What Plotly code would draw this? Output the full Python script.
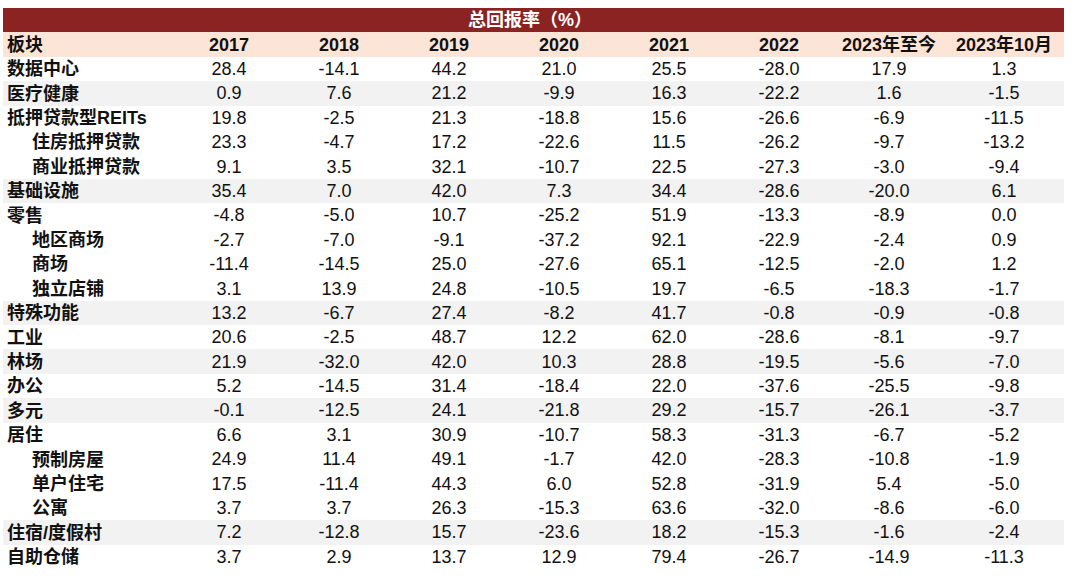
import plotly.graph_objects as go
import numpy as np

title = "总回报率（%）"
header_label = "板块"
years = ["2017", "2018", "2019", "2020", "2021", "2022", "2023年至今", "2023年10月"]
sectors = ["数据中心", "医疗健康", "抵押贷款型REITs", "住房抵押贷款", "商业抵押贷款", "基础设施",
           "零售", "地区商场", "商场", "独立店铺", "特殊功能", "工业", "林场", "办公", "多元",
           "居住", "预制房屋", "单户住宅", "公寓", "住宿/度假村", "自助仓储"]
sub_sectors = ["住房抵押贷款", "商业抵押贷款", "地区商场", "商场", "独立店铺", "预制房屋", "单户住宅", "公寓"]
shaded = ["医疗健康", "基础设施", "特殊功能", "林场", "多元", "住宿/度假村"]

v2017 = [28.4, 0.9, 19.8, 23.3, 9.1, 35.4, -4.8, -2.7, -11.4, 3.1, 13.2, 20.6, 21.9, 5.2, -0.1, 6.6, 24.9, 17.5, 3.7, 7.2, 3.7]
v2018 = [-14.1, 7.6, -2.5, -4.7, 3.5, 7.0, -5.0, -7.0, -14.5, 13.9, -6.7, -2.5, -32.0, -14.5, -12.5, 3.1, 11.4, -11.4, 3.7, -12.8, 2.9]
v2019 = [44.2, 21.2, 21.3, 17.2, 32.1, 42.0, 10.7, -9.1, 25.0, 24.8, 27.4, 48.7, 42.0, 31.4, 24.1, 30.9, 49.1, 44.3, 26.3, 15.7, 13.7]
v2020 = [21.0, -9.9, -18.8, -22.6, -10.7, 7.3, -25.2, -37.2, -27.6, -10.5, -8.2, 12.2, 10.3, -18.4, -21.8, -10.7, -1.7, 6.0, -15.3, -23.6, 12.9]
v2021 = [25.5, 16.3, 15.6, 11.5, 22.5, 34.4, 51.9, 92.1, 65.1, 19.7, 41.7, 62.0, 28.8, 22.0, 29.2, 58.3, 42.0, 52.8, 63.6, 18.2, 79.4]
v2022 = [-28.0, -22.2, -26.6, -26.2, -27.3, -28.6, -13.3, -22.9, -12.5, -6.5, -0.8, -28.6, -19.5, -37.6, -15.7, -31.3, -28.3, -31.9, -32.0, -15.3, -26.7]
v2023ytd = [17.9, 1.6, -6.9, -9.7, -3.0, -20.0, -8.9, -2.4, -2.0, -18.3, -0.9, -8.1, -5.6, -25.5, -26.1, -6.7, -10.8, 5.4, -8.6, -1.6, -14.9]
v2023oct = [1.3, -1.5, -11.5, -13.2, -9.4, 6.1, 0.0, 0.9, 1.2, -1.7, -0.8, -9.7, -7.0, -9.8, -3.7, -5.2, -1.9, -5.0, -6.0, -2.4, -11.3]

value_cols = [v2017, v2018, v2019, v2020, v2021, v2022, v2023ytd, v2023oct]

# ---- styling ----
W, H = 1080, 579
FONT = "Arial, 'Liberation Sans', 'Noto Sans CJK SC', sans-serif"
RED = "#8B2323"
PEACH = "#FCE4D6"
GREY = "#F2F2F2"
TXT = "#111111"
col_widths = [171, 110, 110, 110, 110, 110, 110, 110, 120]   # label column + 8 value columns
INDENT = "\u00a0" * 5

# rows (top to bottom): title bar, header row, data rows
TITLE_KEY = "__title__"
row_keys = [TITLE_KEY, header_label] + sectors
row_ticktext = [""] + ["<b>" + header_label + "</b>"] + [
    "<b>" + (INDENT + s if s in sub_sectors else s) + "</b>" for s in sectors]

# background class: 0 white, 1 grey, 2 peach, 3 red
z = [[3] * 9, [2] * 9] + [[1 if s in shaded else 0] * 9 for s in sectors]
text = [[""] * 9, [""] + ["<b>" + y + "</b>" for y in years]]
for i in range(len(sectors)):
    text.append([""] + [f"{col[i]:.1f}" for col in value_cols])

x_edges = list(np.concatenate([[0], np.cumsum(col_widths)]))

fig = go.Figure(go.Heatmap(
    z=z, x=x_edges, y=row_keys, text=text, texttemplate="%{text}",
    textfont=dict(family=FONT, size=18, color=TXT),
    zmin=0, zmax=3, showscale=False, hoverinfo="skip", xgap=0, ygap=0,
    colorscale=[[0, "white"], [1 / 3, GREY], [2 / 3, PEACH], [1, RED]],
))

fig.update_xaxes(range=[0, sum(col_widths)], visible=False, fixedrange=True)
fig.update_yaxes(autorange="reversed", tickmode="array", tickvals=row_keys, ticktext=row_ticktext,
                 ticklabelposition="inside", ticks="", showgrid=False, zeroline=False,
                 showline=False, ticklabelstandoff=1, fixedrange=True,
                 tickfont=dict(family=FONT, size=18, color=TXT))

fig.update_layout(
    width=W, height=H, margin=dict(l=3, r=W - 1064, t=8, b=10),
    paper_bgcolor="white", plot_bgcolor="white",
    title=dict(text="<b>" + title + "</b>", x=530 / W, xref="container", xanchor="center",
               y=1 - 19.5 / H, yref="container", yanchor="middle",
               font=dict(family=FONT, size=18, color="white")),
)
fig.write_html("out.html", config={"displayModeBar": False, "staticPlot": True},
               post_script="document.body.style.margin='0';")
